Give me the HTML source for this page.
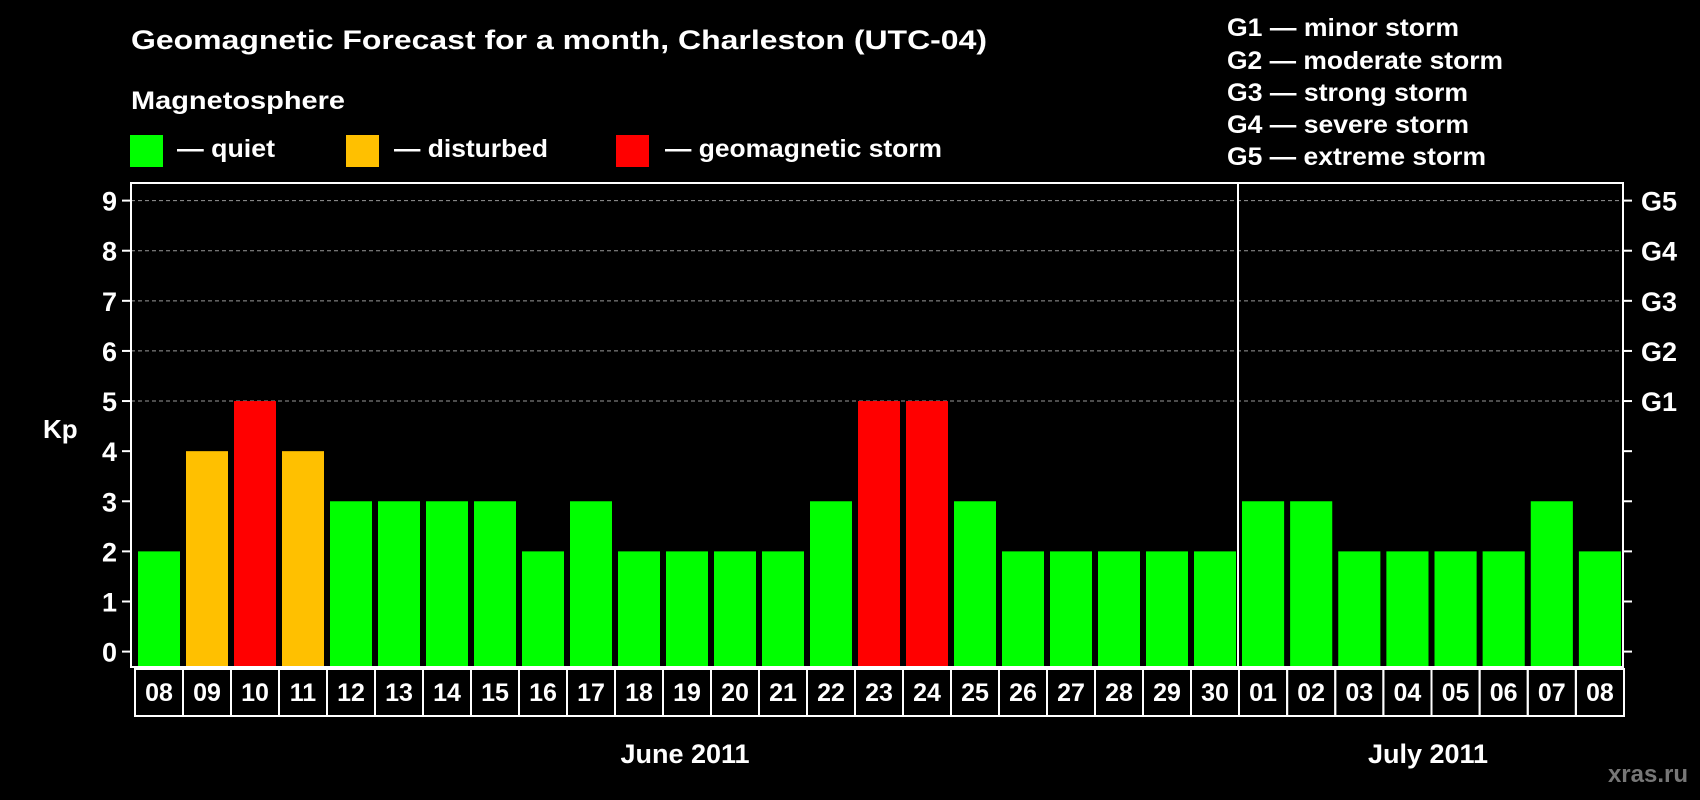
<!DOCTYPE html>
<html><head><meta charset="utf-8"><style>
html,body{margin:0;padding:0;background:#000;}
svg{display:block;font-family:"Liberation Sans",Arial,sans-serif;font-weight:bold;}
</style></head><body>
<svg id="chart" width="1700" height="800" viewBox="0 0 1700 800">
<rect x="0" y="0" width="1700" height="800" fill="#000"/>
<text x="131" y="49" font-size="27" fill="#fff" textLength="856" lengthAdjust="spacingAndGlyphs">Geomagnetic Forecast for a month, Charleston (UTC-04)</text>
<text x="131" y="109" font-size="25" fill="#fff" textLength="214" lengthAdjust="spacingAndGlyphs">Magnetosphere</text>
<g>
<rect x="130" y="135" width="33" height="32" fill="#00ff00"/>
<text x="177" y="157" font-size="25" fill="#fff" textLength="98" lengthAdjust="spacingAndGlyphs">— quiet</text></g>
<g>
<rect x="346" y="135" width="33" height="32" fill="#ffc000"/>
<text x="394" y="157" font-size="25" fill="#fff" textLength="154" lengthAdjust="spacingAndGlyphs">— disturbed</text></g>
<g>
<rect x="616" y="135" width="33" height="32" fill="#ff0000"/>
<text x="665" y="157" font-size="25" fill="#fff" textLength="277" lengthAdjust="spacingAndGlyphs">— geomagnetic storm</text></g>
<g font-size="25" fill="#fff">
<text x="1227" y="36" textLength="232" lengthAdjust="spacingAndGlyphs">G1 — minor storm</text>
<text x="1227" y="69" textLength="276" lengthAdjust="spacingAndGlyphs">G2 — moderate storm</text>
<text x="1227" y="101" textLength="241" lengthAdjust="spacingAndGlyphs">G3 — strong storm</text>
<text x="1227" y="133" textLength="242" lengthAdjust="spacingAndGlyphs">G4 — severe storm</text>
<text x="1227" y="165" textLength="259" lengthAdjust="spacingAndGlyphs">G5 — extreme storm</text>
</g>
<g id="grid"></g>
<g id="bars"></g>
<g id="axes"></g>
<text x="43" y="438" font-size="26" fill="#fff">Kp</text>
<text x="685" y="763" font-size="27" fill="#fff" text-anchor="middle">June 2011</text>
<text x="1428" y="763" font-size="27" fill="#fff" text-anchor="middle">July 2011</text>
<text x="1688" y="782" font-size="24" fill="#777" text-anchor="end">xras.ru</text>
</svg>
<script>
const days = ["08","09","10","11","12","13","14","15","16","17","18","19","20","21","22","23","24","25","26","27","28","29","30","01","02","03","04","05","06","07","08"];
const kpValues = [2,4,5,4,3,3,3,3,2,3,2,2,2,2,3,5,5,3,2,2,2,2,2,3,3,2,2,2,2,3,2];
const yTicks = [0,1,2,3,4,5,6,7,8,9];
const gLabels = ["G1","G2","G3","G4","G5"];
const juneCount = 23;

const NS = "http://www.w3.org/2000/svg";
const L = 131, R = 1623, T = 183, B = 667;
function y(v){ return 651.6 - v * (451/9); }
const divX = 1238;
function slotStart(i){
  if(i < juneCount) return 134 + i*48;
  return divX + (i-juneCount)*((R-divX)/(days.length-juneCount));
}
function slotWidth(i){ return i < juneCount ? 48 : (R-divX)/(days.length-juneCount); }
function color(v){ return v>=5 ? "#ff0000" : (v>=4 ? "#ffc000" : "#00ff00"); }
function mk(tag, attrs, parent){
  const e = document.createElementNS(NS, tag);
  for(const k in attrs) e.setAttribute(k, attrs[k]);
  parent.appendChild(e); return e;
}
const grid = document.getElementById("grid");
const bars = document.getElementById("bars");
const axes = document.getElementById("axes");

yTicks.forEach(t=>{
  if(t>=5){
    const ln = mk("line",{x1:L,x2:R,y1:y(t),y2:y(t),stroke:"#999","stroke-width":1,"stroke-dasharray":"4,3"},grid);
    
    
  }
  const tk = mk("line",{x1:L-9,x2:L,y1:y(t),y2:y(t),stroke:"#fff","stroke-width":2},axes);
  
  
  const tk2 = mk("line",{x1:R,x2:R+9,y1:y(t),y2:y(t),stroke:"#fff","stroke-width":2},axes);
  
  
  const lb = mk("text",{x:117,y:y(t)+10,"font-size":27,fill:"#fff","text-anchor":"end"},axes);
  lb.textContent = t;
  
  
});
gLabels.forEach((g,i)=>{
  const lb = mk("text",{x:1641,y:y(5+i)+10,"font-size":27,fill:"#fff"},axes);
  lb.textContent = g;
  
  
});

kpValues.forEach((v,i)=>{
  const w = slotWidth(i), bw = w - 6;
  const r = mk("rect",{x:slotStart(i)+4,y:y(v),width:bw,height:B-y(v),fill:color(v)},bars);
  
  
});

const frame = mk("rect",{x:L,y:T,width:R-L,height:B-T,fill:"none",stroke:"#fff","stroke-width":2},axes);


const dv = mk("line",{x1:divX,x2:divX,y1:T,y2:B,stroke:"#fff","stroke-width":2},axes);



days.forEach((d,i)=>{
  const x0 = slotStart(i), w = slotWidth(i);
  const c = mk("rect",{x:x0+1,y:669,width:w,height:47,fill:"none",stroke:"#fff","stroke-width":2},axes);
  
  
  const t = mk("text",{x:x0+1+w/2,y:701,"font-size":25,fill:"#fff","text-anchor":"middle"},axes);
  t.textContent = d;
  
  
});
</script>
</body></html>
